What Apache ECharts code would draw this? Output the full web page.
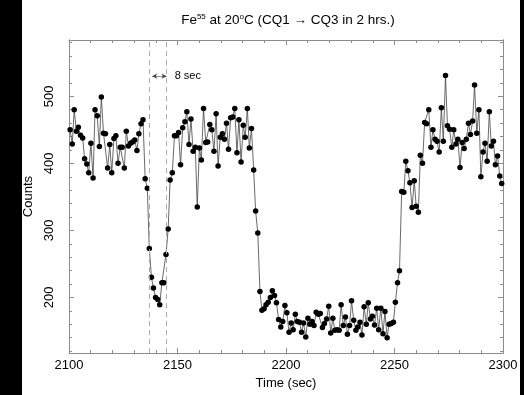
<!DOCTYPE html>
<html>
<head>
<meta charset="utf-8">
<script src="https://cdn.jsdelivr.net/npm/echarts@6/dist/echarts.min.js"></script>
<style>html,body{margin:0;padding:0;background:#fff}#c{width:524px;height:395px}</style>
</head>
<body>
<div id="c"></div>
<script>
// Time stamps (sec)
var times = [
2100.5,2101.5,2102.4,2103.4,2104.3,2105.3,2106.3,2107.2,2108.2,2109.1,
2110.1,2111.1,2112.0,2113.0,2114.0,2114.9,2115.9,2116.8,2117.8,2118.8,
2119.7,2120.7,2121.6,2122.6,2123.6,2124.5,2125.5,2126.4,2127.4,2128.4,
2129.3,2130.3,2131.3,2132.2,2133.2,2134.1,2135.1,2136.1,2137.0,2138.0,
2138.9,2139.9,2140.9,2141.8,2142.8,2143.7,2144.7,2145.7,2146.6,2147.6,
2148.6,2149.5,2150.5,2151.4,2152.4,2153.4,2154.3,2155.3,2156.2,2157.2,
2158.2,2159.1,2160.1,2161.0,2162.0,2163.0,2163.9,2164.9,2165.8,2166.8,
2167.8,2168.7,2169.7,2170.7,2171.6,2172.6,2173.5,2174.5,2175.5,2176.4,
2177.4,2178.3,2179.3,2180.3,2181.2,2182.2,2183.1,2184.1,2185.1,2186.0,
2187.0,2188.0,2188.9,2189.9,2190.8,2191.8,2192.8,2193.7,2194.7,2195.6,
2196.6,2197.6,2198.5,2199.5,2200.4,2201.4,2202.4,2203.3,2204.3,2205.2,
2206.2,2207.2,2208.1,2209.1,2210.1,2211.0,2212.0,2212.9,2213.9,2214.9,
2215.8,2216.8,2217.7,2218.7,2219.7,2220.6,2221.6,2222.5,2223.5,2224.5,
2225.4,2226.4,2227.4,2228.3,2229.3,2230.2,2231.2,2232.2,2233.1,2234.1,
2235.0,2236.0,2237.0,2237.9,2238.9,2239.8,2240.8,2241.8,2242.7,2243.7,
2244.7,2245.6,2246.6,2247.5,2248.5,2249.5,2250.4,2251.4,2252.3,2253.3,
2254.3,2255.2,2256.2,2257.1,2258.1,2259.1,2260.0,2261.0,2261.9,2262.9,
2263.9,2264.8,2265.8,2266.8,2267.7,2268.7,2269.6,2270.6,2271.6,2272.5,
2273.5,2274.4,2275.4,2276.4,2277.3,2278.3,2279.2,2280.2,2281.2,2282.1,
2283.1,2284.1,2285.0,2286.0,2286.9,2287.9,2288.9,2289.8,2290.8,2291.7,
2292.7,2293.7,2294.6,2295.6,2296.5,2297.5,2298.5,2299.4
];
// Counts
var counts = [
450,429,480,448,454,442,438,407,399,386,
430,378,480,471,425,499,445,444,393,428,
386,437,441,400,424,424,393,448,426,430,
432,435,419,444,459,465,377,363,273,230,
214,200,197,189,222,222,264,302,375,386,
441,441,446,398,453,462,477,428,466,418,
424,335,423,405,482,431,432,458,450,418,
474,396,439,444,436,460,421,468,469,482,
416,465,402,457,439,482,423,452,390,329,
296,209,181,183,189,193,200,210,203,192,
167,156,164,188,177,148,162,152,175,164,
163,148,162,141,169,160,164,158,178,175,
176,155,161,168,187,147,169,151,152,151,
189,158,171,145,158,195,166,151,156,163,
144,186,160,192,168,172,159,184,152,184,
146,179,140,160,161,163,193,222,240,358,
357,403,389,371,334,374,336,327,412,400,
461,459,480,424,450,436,433,417,483,433,
531,456,451,424,450,429,436,394,431,422,
436,460,443,463,517,445,480,380,417,430,
403,477,426,433,398,411,381,370
];
var markerTimes = [2137, 2145];
var yMajorTicks = [200, 300, 400, 500];
var yMinorTicks = [120,140,160,180,200,220,240,260,280,300,320,340,360,380,400,420,440,460,480,500,520,540,560,580];
var yMin = 117, yMax = 584;
var xMin = 2100, xMax = 2300;

var data = times.map(function (t, i) { return [t, counts[i]]; });
var gray = '#8c8c8c';
var font = 'Liberation Sans, Arial, Helvetica, sans-serif';

function yAx(pos, ticks, len, labels) {
  return {
    type: 'value', position: pos, min: yMin, max: yMax,
    axisLine: { show: true, lineStyle: { color: gray, width: 1 } },
    axisTick: { show: true, inside: true, length: len, customValues: ticks, lineStyle: { color: gray } },
    axisLabel: labels ? { show: true, customValues: yMajorTicks, rotate: 90, margin: 13, color: '#000', fontSize: 13, fontFamily: font } : { show: false },
    splitLine: { show: false },
    name: labels ? 'Counts' : '', nameLocation: 'middle', nameGap: 32,
    nameTextStyle: { color: '#000', fontSize: 13, fontFamily: font }
  };
}
function xAx(pos, labels) {
  return {
    type: 'value', position: pos, min: xMin, max: xMax, interval: 50,
    axisLine: { show: true, onZero: false, lineStyle: { color: gray, width: 1 } },
    axisTick: { show: true, inside: true, length: 5, lineStyle: { color: gray } },
    minorTick: { show: true, splitNumber: 5, length: 3, lineStyle: { color: gray } },
    axisLabel: labels ? { show: true, margin: 6, color: '#000', fontSize: 13, fontFamily: font,
      formatter: function (v) { return String(v); } } : { show: false },
    splitLine: { show: false },
    name: labels ? 'Time (sec)' : '', nameLocation: 'middle', nameGap: 19,
    nameTextStyle: { color: '#000', fontSize: 13, fontFamily: font }
  };
}

var dashStyle = { type: [5, 4], color: '#aaa', width: 1 };
var chart = echarts.init(document.getElementById('c'), null, { renderer: 'canvas' });
chart.setOption({
  animation: false,
  backgroundColor: '#fff',
  title: {
    text: 'Fe{sup|55} at 20{sup|o}C (CQ1 \u2192 CQ3 in 2 hrs.)',
    left: 283, top: 8, textAlign: 'center',
    textStyle: {
      fontSize: 13.5, fontWeight: 'normal', color: '#000', fontFamily: font,
      rich: { sup: { fontSize: 8, padding: [0, 0, 6, 0], fontFamily: font, color: '#000' } }
    }
  },
  grid: { left: 69, right: 21, top: 40, bottom: 32 },
  xAxis: [xAx('bottom', true), xAx('top', false)],
  yAxis: [yAx('left', yMajorTicks, 5, true), yAx('left', yMinorTicks, 3, false),
          yAx('right', yMajorTicks, 5, false), yAx('right', yMinorTicks, 3, false)],
  series: [{
    type: 'line', xAxisIndex: 0, yAxisIndex: 0, data: data,
    symbol: 'circle', symbolSize: 5.5, showAllSymbol: true,
    lineStyle: { color: '#444', width: 0.8 },
    itemStyle: { color: '#000' },
    markLine: {
      silent: true, animation: false, symbol: ['none', 'none'],
      label: { show: false },
      data: [
        { xAxis: markerTimes[0], lineStyle: dashStyle },
        { xAxis: markerTimes[1], lineStyle: dashStyle },
        [
          { coord: [markerTimes[0] + 1.3, 530], symbol: 'arrow', symbolSize: [4, 5] },
          { coord: [markerTimes[1], 530], symbol: 'arrow', symbolSize: [4, 5],
            lineStyle: { type: 'solid', color: '#444', width: 0.6 },
            label: { show: true, position: 'end', formatter: '8 sec', distance: 8, color: '#000', fontSize: 11, fontFamily: font } }
        ]
      ],
      lineStyle: { type: 'solid', color: '#444', width: 0.6 }
    },
    z: 3
  }],
  graphic: [
    { type: 'rect', left: 0, top: 0, shape: { width: 22, height: 395 }, style: { fill: '#000' }, z: 100 },
    { type: 'rect', right: 0, top: 0, shape: { width: 4, height: 395 }, style: { fill: '#000' }, z: 100 }
  ]
});
</script>
</body>
</html>
